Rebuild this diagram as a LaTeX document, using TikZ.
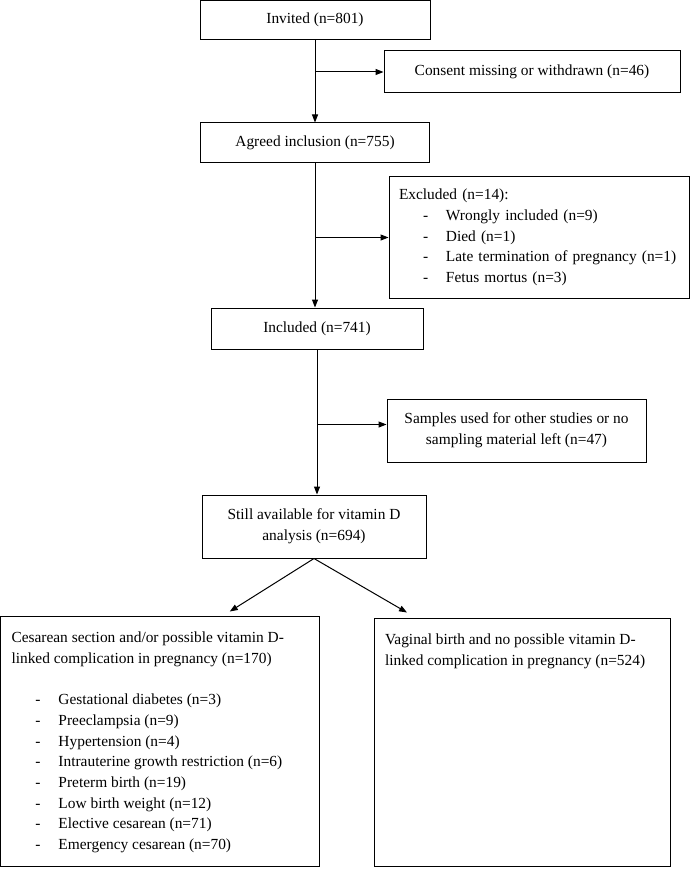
\documentclass[tikz,border=0pt]{standalone}
\usepackage{fontspec}
\setmainfont{Liberation Serif}
\usetikzlibrary{arrows.meta}

\tikzset{
  box/.style={draw, line width=1pt, rectangle, inner sep=0pt, font=\fontsize{15.4}{20.7}\selectfont},
  arr/.style={line width=1pt, -{Triangle[length=8pt,width=6pt]}},
}
\newcommand{\itm}[1]{\hspace*{24pt}\makebox[23pt][l]{-}#1}

\begin{document}
\begin{tikzpicture}[x=1pt,y=-1pt]
\path[use as bounding box] (0,0) rectangle (690,869);
% main column
\node[box, minimum width=230, minimum height=39] (invited) at (315,20) {Invited (n=801)};
\node[box, minimum width=229, minimum height=40] (agreed) at (315,143) {Agreed inclusion (n=755)};
\node[box, minimum width=212, minimum height=41] (included) at (317,328.5) {Included (n=741)};
\node[box, minimum width=224, minimum height=63, align=center] (still) at (314,526.5) {Still available for vitamin D\\ analysis (n=694)};
% side boxes
\node[box, minimum width=296, minimum height=42] (consent) at (532,72) {Consent missing or withdrawn (n=46)};
\node[box, minimum height=121, text width=280, inner xsep=10, align=left] (excluded) at (539,237.5) {Excluded (n=14):\\
  \itm{Wrongly included (n=9)}\\
  \itm{Died (n=1)}\\
  \itm{Late termination of pregnancy (n=1)}\\
  \itm{Fetus mortus (n=3)}};
\node[box, minimum width=259, minimum height=63, align=center] (samples) at (516.5,430.5) {Samples used for other studies or no\\ sampling material left (n=47)};
% outcome groups
\node[box, inner xsep=11] (cesarean) at (159.75,741) {\parbox[c][250pt][t]{296.5pt}{\raggedright\vspace*{16pt}%
  Cesarean section and/or possible vitamin D-\\
  linked complication in pregnancy (n=170)\\[20.7pt]
  \itm{Gestational diabetes (n=3)}\\
  \itm{Preeclampsia (n=9)}\\
  \itm{Hypertension (n=4)}\\
  \itm{Intrauterine growth restriction (n=6)}\\
  \itm{Preterm birth (n=19)}\\
  \itm{Low birth weight (n=12)}\\
  \itm{Elective cesarean (n=71)}\\
  \itm{Emergency cesarean (n=70)}}};
\node[box, inner xsep=11] (vaginal) at (522,742) {\parbox[c][248pt][t]{274pt}{\raggedright\vspace*{16pt}%
  Vaginal birth and no possible vitamin D-\\
  linked complication in pregnancy (n=524)}};
% connectors
\draw[arr] (invited.south) -- (invited.south |- agreed.north);
\draw[arr] (invited.south |- consent.west) -- (consent.west);
\draw[arr] (agreed.south) -- (agreed.south |- included.north);
\draw[arr] (agreed.south |- excluded.west) -- (excluded.west);
\draw[arr] (included.south) -- (included.south |- still.north);
\draw[arr] (included.south |- samples.west) ++(0,-6) -- ([yshift=6pt]samples.west);
\draw[arr] (still.south) -- ([xshift=70pt,yshift=4pt]cesarean.north);
\draw[arr] (still.south) -- ([xshift=-115pt,yshift=5pt]vaginal.north);
\end{tikzpicture}
\end{document}
